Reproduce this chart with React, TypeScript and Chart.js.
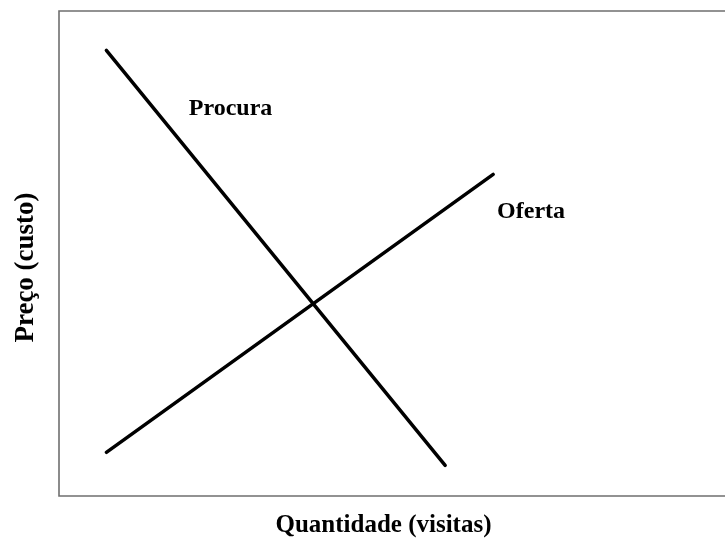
import React, { useEffect, useRef } from "react";
import { Chart, registerables } from "chart.js";

Chart.register(...registerables);

// Demand (Procura) and supply (Oferta) lines, in arbitrary units (0..10)
const demandX = [0.73, 5.95];
const demandY = [9.19, 0.63];
const supplyX = [0.73, 6.69];
const supplyY = [0.9, 6.63];

const xTitle = "Quantidade (visitas)";
const yTitle = "Preço (custo)";
const demandLabel = "Procura";
const supplyLabel = "Oferta";
// label anchors (left, baseline) in data units
const demandLabelPos = [2.0, 7.85];
const supplyLabelPos = [6.75, 5.74];

const FONT = '"Liberation Serif", "Times New Roman", serif';

const decorPlugin = {
  id: "decor",
  afterDraw(chart: any) {
    const { ctx, chartArea: a, scales } = chart;
    const xs = scales.x;
    const ys = scales.y;
    ctx.save();
    // frame: top, left, bottom
    ctx.strokeStyle = "#6f6f6f";
    ctx.lineWidth = 1.6;
    ctx.beginPath();
    ctx.moveTo(chart.width, a.top);
    ctx.lineTo(a.left, a.top);
    ctx.lineTo(a.left, a.bottom);
    ctx.lineTo(chart.width, a.bottom);
    ctx.stroke();

    ctx.fillStyle = "#000";
    ctx.textBaseline = "alphabetic";
    // line labels
    ctx.font = `bold 24px ${FONT}`;
    ctx.textAlign = "left";
    ctx.fillText(demandLabel, xs.getPixelForValue(demandLabelPos[0]), ys.getPixelForValue(demandLabelPos[1]));
    ctx.fillText(supplyLabel, xs.getPixelForValue(supplyLabelPos[0]), ys.getPixelForValue(supplyLabelPos[1]));

    // axis titles
    ctx.font = `bold 25px ${FONT}`;
    ctx.textAlign = "center";
    ctx.fillText(xTitle, (a.left + a.right) / 2, a.bottom + 36);
    ctx.font = `bold 27px ${FONT}`;
    ctx.translate(a.left - 26, (a.top + a.bottom) / 2 + 14);
    ctx.rotate(-Math.PI / 2);
    ctx.fillText(yTitle, 0, 0);
    ctx.restore();
  },
};

export default function App() {
  const ref = useRef<HTMLCanvasElement>(null);
  useEffect(() => {
    document.body.style.margin = "0";
    const canvas = ref.current!;
    const chart = new Chart(canvas, {
      type: "scatter",
      data: {
        datasets: [
          {
            label: demandLabel,
            data: demandX.map((x, i) => ({ x, y: demandY[i] })),
            showLine: true,
            borderColor: "#000",
            borderWidth: 3.5,
            borderCapStyle: "round",
            pointRadius: 0,
          },
          {
            label: supplyLabel,
            data: supplyX.map((x, i) => ({ x, y: supplyY[i] })),
            showLine: true,
            borderColor: "#000",
            borderWidth: 3.5,
            borderCapStyle: "round",
            pointRadius: 0,
          },
        ],
      },
      options: {
        responsive: false,
        animation: false,
        layout: { padding: { left: 59, top: 11, right: 17, bottom: 43 } },
        scales: {
          x: { type: "linear", min: 0, max: 10, display: false },
          y: { type: "linear", min: 0, max: 10, display: false },
        },
        plugins: {
          legend: { display: false },
          tooltip: { enabled: false },
        },
      },
      plugins: [decorPlugin],
    } as any);
    return () => chart.destroy();
  }, []);
  return <canvas ref={ref} width={725} height={539} style={{ display: "block" }} />;
}
